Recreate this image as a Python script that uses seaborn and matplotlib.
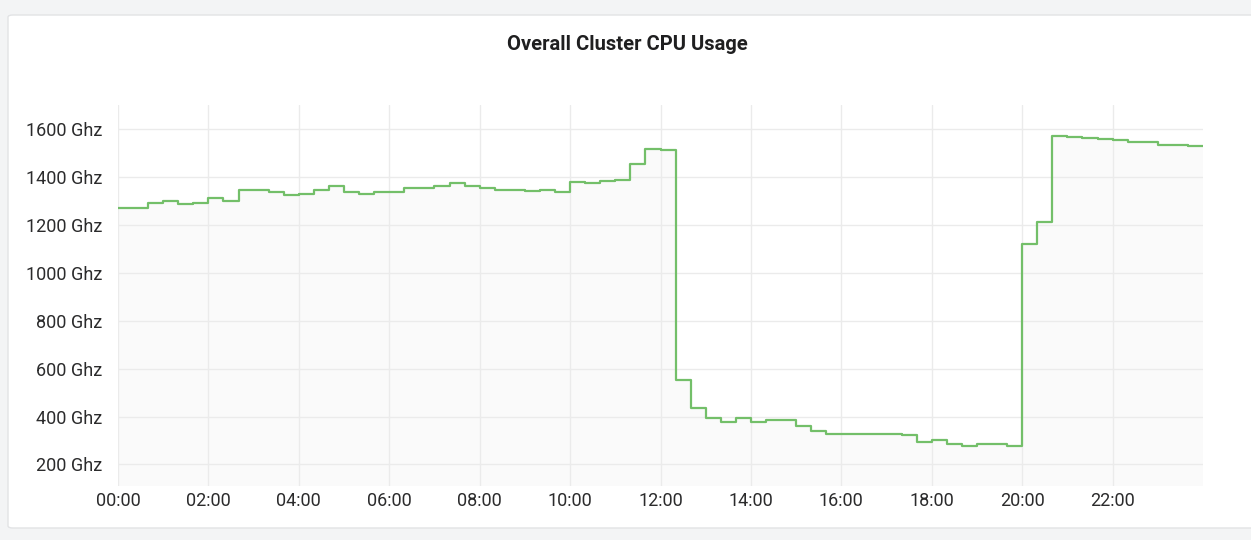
import numpy as np
import pandas as pd
import matplotlib.pyplot as plt
from matplotlib.patches import FancyBboxPatch
import seaborn as sns

# one sample every 20 minutes, values in Ghz
step_hours = 1 / 3
cpu_ghz = [
    1270, 1270, 1292, 1300, 1286, 1293, 1312, 1299, 1346, 1346, 1337, 1325,
    1328, 1344, 1364, 1337, 1330, 1335, 1335, 1353, 1353, 1362, 1374, 1360,
    1353, 1344, 1344, 1340, 1344, 1337, 1377, 1374, 1383, 1389, 1453, 1517,
    1514, 554, 436, 393, 378, 393, 376, 387, 385, 361, 339, 327,
    325, 325, 325, 325, 322, 293, 300, 286, 279, 287, 287, 279,
    1121, 1210, 1572, 1567, 1564, 1560, 1554, 1546, 1546, 1535, 1535, 1528,
]
x_ticks = list(range(0, 24, 2))
x_labels = [f'{h:02d}:00' for h in x_ticks]
y_ticks = [200, 400, 600, 800, 1000, 1200, 1400, 1600]
y_labels = [f'{v} Ghz' for v in y_ticks]
title = 'Overall Cluster CPU Usage'

# last step is held until the end of the window
df = pd.DataFrame({
    'hour': np.arange(len(cpu_ghz) + 1) * step_hours,
    'ghz': cpu_ghz + cpu_ghz[-1:],
})

sns.set_theme(style='white')
plt.rcParams['font.family'] = ['Roboto', 'DejaVu Sans']

W, H = 1251, 540
fig = plt.figure(figsize=(W / 100, H / 100), dpi=100, facecolor='#f3f4f5')

# white panel
panel = FancyBboxPatch((8 / W, 12 / H), 1260 / W, 513 / H,
                       boxstyle='round,pad=0,rounding_size=0.004',
                       transform=fig.transFigure, fc='white', ec='#e2e3e5',
                       lw=1, zorder=-10)
fig.patches.append(panel)

fig.text(627 / W, 1 - 45 / H, title, ha='center', va='center',
         fontsize=14.5, fontweight='bold', color='#1f1f20')

ax = fig.add_axes([118 / W, 54 / H, 1085 / W, 381 / H])
ax.set_facecolor('none')

ymin, ymax = 110, 1700
ax.fill_between(df['hour'], df['ghz'], ymin, step='post',
                color='#fafafa', lw=0, zorder=0.3)
sns.lineplot(data=df, x='hour', y='ghz', drawstyle='steps-post',
             color='#73bf69', linewidth=1.6, ax=ax, zorder=3)

ax.set_xlim(0, 24)
ax.set_ylim(ymin, ymax)
ax.set_xticks(x_ticks)
ax.set_xticklabels(x_labels)
ax.set_yticks(y_ticks)
ax.set_yticklabels(y_labels)
ax.set_xlabel('')
ax.set_ylabel('')
ax.grid(True, color='#ebebeb', linewidth=1)
ax.set_axisbelow(True)
for s in ax.spines.values():
    s.set_visible(False)
ax.tick_params(axis='both', length=0, labelsize=13, colors='#2b2b2c')
ax.tick_params(axis='y', pad=11)
ax.tick_params(axis='x', pad=4)

fig.savefig('out.png', dpi=100, facecolor=fig.get_facecolor())
